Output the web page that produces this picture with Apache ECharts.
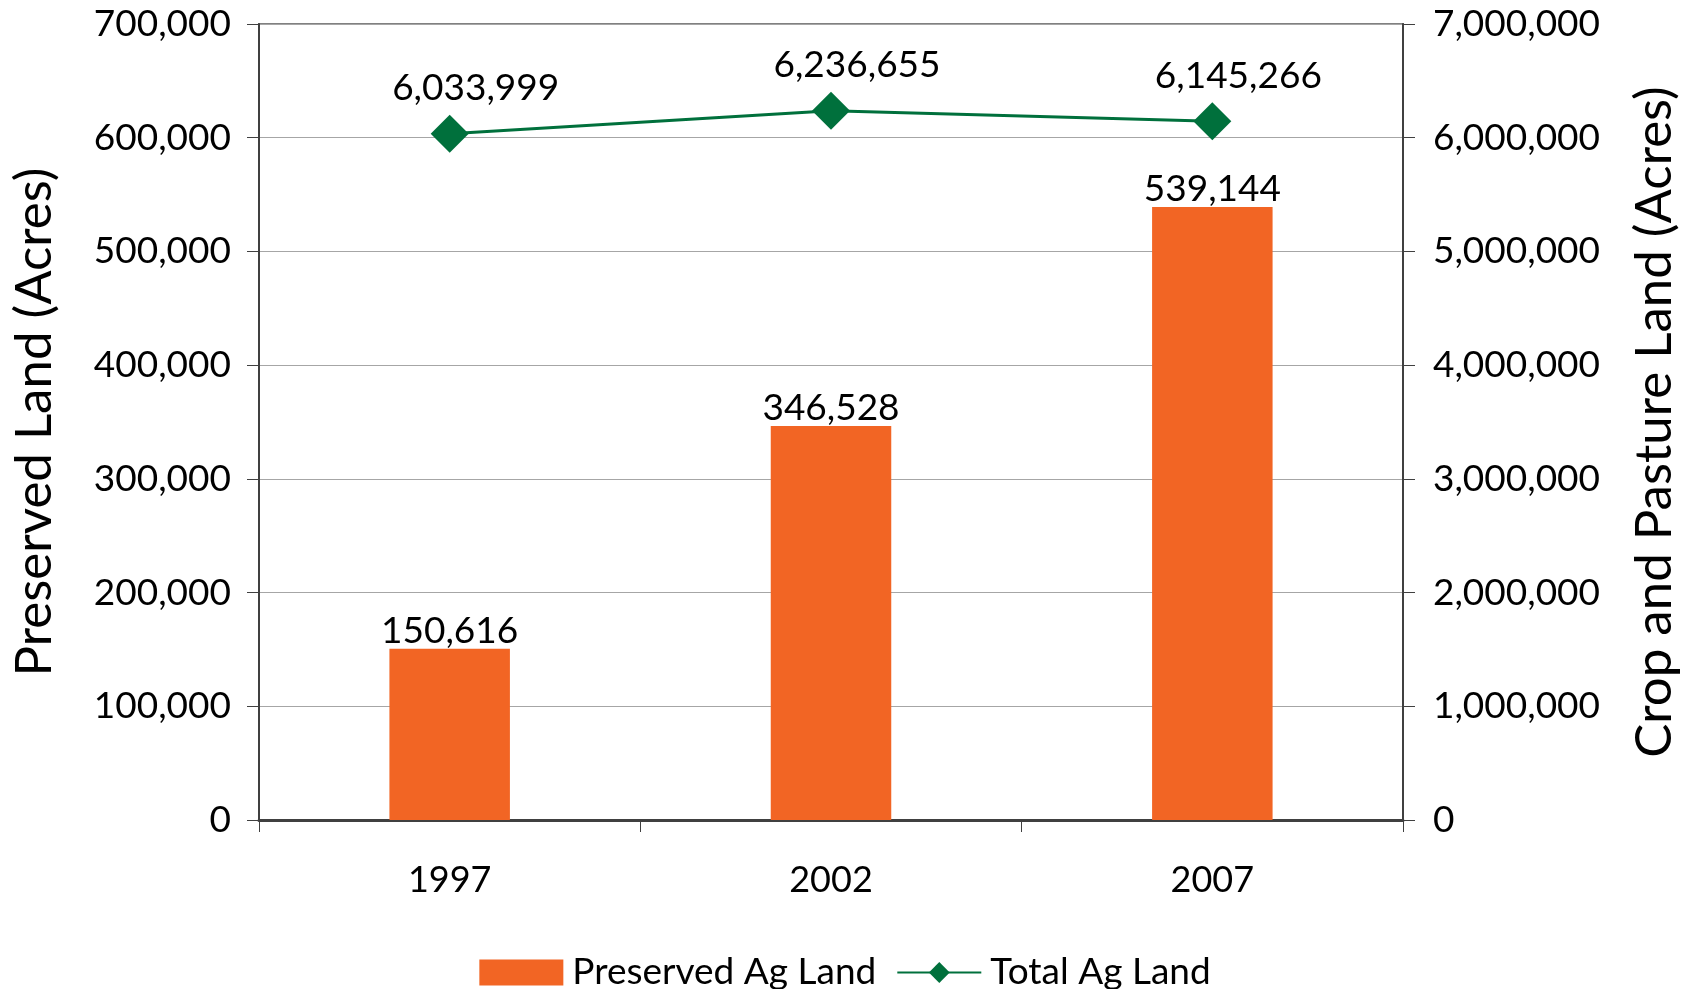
<!DOCTYPE html>
<html>
<head>
<meta charset="utf-8">
<script src="https://cdn.jsdelivr.net/npm/echarts@6/dist/echarts.min.js"></script>
<style>
html,body{margin:0;padding:0;background:#fff;}
#c{width:1690px;height:989px;}
</style>
</head>
<body>
<div id="c"></div>
<script>
var years = ['1997', '2002', '2007'];
var preservedAgLand = [150616, 346528, 539144];
var totalAgLand = [6033999, 6236655, 6145266];
var leftTicks = {min: 0, max: 700000, interval: 100000};
var rightTicks = {min: 0, max: 7000000, interval: 1000000};

var FONT = 'Lato';
var fmt = function (v) { return Number(v).toLocaleString('en-US'); };

var chart = echarts.init(document.getElementById('c'));
chart.setOption({
  backgroundColor: '#ffffff',
  textStyle: {fontFamily: FONT, color: '#000'},
  grid: {left: 259, right: 287, top: 24, bottom: 169, show: true, borderColor: '#808080', borderWidth: 2},
  legend: {
    bottom: -7,
    left: 'center',
    itemWidth: 84,
    itemHeight: 26,
    itemGap: 20,
    textStyle: {fontFamily: FONT, fontSize: 37, color: '#000', padding: [0, 0, 0, 4]},
    data: [
      {name: 'Preserved Ag Land', icon: 'rect'},
      {name: 'Total Ag Land'}
    ]
  },
  xAxis: {
    type: 'category',
    data: years,
    boundaryGap: true,
    axisLine: {lineStyle: {color: '#404040', width: 3}},
    axisTick: {show: true, length: 12, lineStyle: {color: '#404040', width: 1}},
    axisLabel: {fontFamily: FONT, fontSize: 36, color: '#000', margin: 42}
  },
  yAxis: [
    {
      type: 'value',
      min: leftTicks.min, max: leftTicks.max, interval: leftTicks.interval,
      name: 'Preserved Land (Acres)',
      nameLocation: 'middle',
      nameGap: 199,
      nameTextStyle: {fontFamily: FONT, fontSize: 51, color: '#000'},
      axisLine: {show: true, lineStyle: {color: '#404040', width: 2}},
      axisTick: {show: true, length: 12, lineStyle: {color: '#404040'}},
      axisLabel: {fontFamily: FONT, fontSize: 37, color: '#000', margin: 28, formatter: fmt},
      splitLine: {show: true, lineStyle: {color: '#a6a6a6', width: 1}}
    },
    {
      type: 'value',
      min: rightTicks.min, max: rightTicks.max, interval: rightTicks.interval,
      name: 'Crop and Pasture Land (Acres)',
      nameLocation: 'middle',
      nameGap: 226,
      nameRotate: 90,
      nameTextStyle: {fontFamily: FONT, fontSize: 51, color: '#000'},
      axisLine: {show: true, lineStyle: {color: '#404040', width: 2}},
      axisTick: {show: true, length: 12, lineStyle: {color: '#404040'}},
      axisLabel: {fontFamily: FONT, fontSize: 37, color: '#000', margin: 30, formatter: fmt},
      splitLine: {show: false}
    }
  ],
  series: [
    {
      name: 'Preserved Ag Land',
      type: 'bar',
      yAxisIndex: 0,
      data: preservedAgLand,
      barWidth: '31.6%',
      itemStyle: {color: '#F26524'},
      label: {show: true, position: 'top', distance: -1, fontFamily: FONT, fontSize: 37, color: '#000', formatter: function (p) { return fmt(p.value); }}
    },
    {
      name: 'Total Ag Land',
      type: 'line',
      yAxisIndex: 1,
      data: totalAgLand,
      symbol: 'diamond',
      symbolSize: 38,
      lineStyle: {color: '#00703C', width: 3},
      itemStyle: {color: '#00703C'},
      label: {show: true, position: 'top', distance: 8, offset: [26, 0], fontFamily: FONT, fontSize: 37, color: '#000', formatter: function (p) { return fmt(p.value); }}
    }
  ]
});
</script>
</body>
</html>
